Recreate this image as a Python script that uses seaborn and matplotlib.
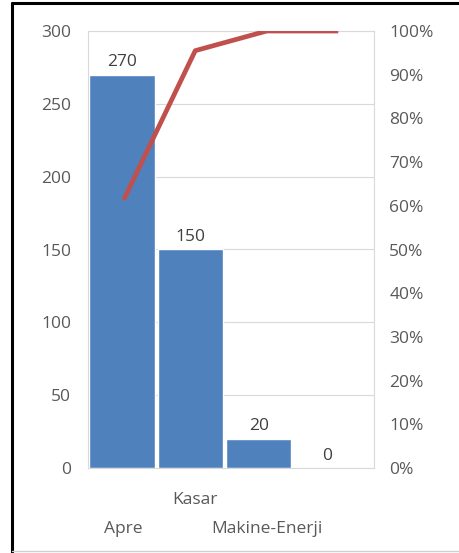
import numpy as np
import pandas as pd
import matplotlib
matplotlib.use('Agg')
import matplotlib.pyplot as plt
from matplotlib.lines import Line2D
import seaborn as sns

# Pareto data
categories = ['Apre', 'Kasar', 'Makine-Enerji', ' ']
counts = [270, 150, 20, 0]
cumulative_pct = [61.4, 95.5, 100, 100]
# excel staggers the category labels on two rows
upper_labels = {1: 'Kasar'}
lower_labels = {0: 'Apre', 2: 'Makine-Enerji'}

sns.set_style('white')
plt.rcParams['font.family'] = ['Open Sans', 'DejaVu Sans']

W, H = 460, 553
fig = plt.figure(figsize=(W / 100, H / 100), dpi=100)
fig.patch.set_facecolor('white')

# axes placed in pixel terms
left, right, top, bottom = 88, 374, 31, 468
rect = [left / W, 1 - bottom / H, (right - left) / W, (bottom - top) / H]
ax = fig.add_axes(rect)

df = pd.DataFrame({'category': categories, 'count': counts})
sns.barplot(data=df, x='category', y='count', order=categories, color='#4F81BD',
            saturation=1, width=0.96, edgecolor='white', linewidth=1.0, ax=ax, zorder=2)

ax.set_ylim(0, 300)
# bars sit on a slightly tighter category grid than the line (excel combo quirk)
ax.set_xlim(-0.5, 3.69)
ax.set_yticks(np.arange(0, 301, 50))
ax.yaxis.grid(True, color='#D9D9D9', linewidth=0.8, zorder=0)
ax.set_axisbelow(True)
ax.set_xlabel('')
ax.set_ylabel('')
ax.set_xticks([])
ax.tick_params(axis='y', length=0, pad=12, labelsize=12.5, labelcolor='#595959')
for s in ax.spines.values():
    s.set_color('#D9D9D9')
    s.set_linewidth(0.8)

# value labels on bars
for i, v in enumerate(counts):
    ax.text(i, v + 3, str(v), ha='center', va='bottom', fontsize=12.5, color='#404040')

# cumulative line on its own overlay axes (secondary y on right)
ax2 = fig.add_axes(rect)
ax2.patch.set_visible(False)
sns.lineplot(x=np.arange(len(categories)), y=cumulative_pct, color='#C0504D',
             linewidth=3.4, ax=ax2, solid_capstyle='butt')
ax2.set_xlim(-0.5, len(categories) - 0.5)
ax2.set_ylim(0, 100)
ax2.yaxis.tick_right()
ax2.set_yticks(np.arange(0, 101, 10))
ax2.set_yticklabels([f'{t}%' for t in range(0, 101, 10)])
ax2.set_yticks([], minor=True)

# two label rows: major ticks for the upper row, minor ticks for the lower row
ax2.set_xticks(list(upper_labels.keys()))
ax2.set_xticklabels(list(upper_labels.values()))
ax2.set_xticks(list(lower_labels.keys()), minor=True)
ax2.set_xticklabels(list(lower_labels.values()), minor=True)
ax2.tick_params(axis='x', which='major', length=0, pad=17, labelsize=12.5, labelcolor='#595959')
ax2.tick_params(axis='x', which='minor', length=0, pad=38, labelsize=12.5, labelcolor='#595959')
ax2.tick_params(axis='y', length=0, pad=11, labelsize=12.5, labelcolor='#595959')
ax2.set_ylabel('')
for s in ax2.spines.values():
    s.set_visible(False)

# screenshot frame
fig.add_artist(Line2D([12 / W, 12 / W], [0, 1 - 3 / H], color='black', linewidth=2.2))
fig.add_artist(Line2D([12 / W, 1], [1 - 3 / H, 1 - 3 / H], color='black', linewidth=2.2))
fig.add_artist(Line2D([12 / W, 1], [2 / H, 2 / H], color='#D0D0D0', linewidth=1))

fig.savefig('out.png', dpi=100)
